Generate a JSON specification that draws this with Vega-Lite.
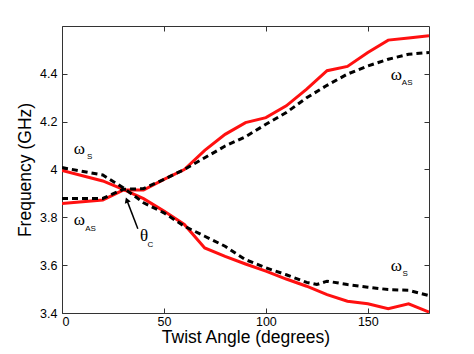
{
  "$schema": "https://vega.github.io/schema/vega-lite/v6.json",
  "autosize": "none",
  "padding": {"left": 62, "top": 26, "right": 45, "bottom": 41},
  "width": 367,
  "height": 287,
  "background": "white",
  "config": {
    "view": {"stroke": "#333", "strokeWidth": 1},
    "axis": {"labelFont": "Liberation Sans", "titleFont": "Liberation Sans", "labelFontSize": 12.5, "titleFontSize": 17.5, "titleFontWeight": "normal", "labelColor": "black", "titleColor": "black", "domainColor": "#333", "tickColor": "#333", "grid": false}
  },
  "datasets": {
    "curves": [
      {"angle": 0, "freq": 3.858, "branch": "red_up", "model": "red"},
      {"angle": 20, "freq": 3.872, "branch": "red_up", "model": "red"},
      {"angle": 30, "freq": 3.914, "branch": "red_up", "model": "red"},
      {"angle": 40, "freq": 3.914, "branch": "red_up", "model": "red"},
      {"angle": 50, "freq": 3.959, "branch": "red_up", "model": "red"},
      {"angle": 60, "freq": 4.0, "branch": "red_up", "model": "red"},
      {"angle": 70, "freq": 4.08, "branch": "red_up", "model": "red"},
      {"angle": 80, "freq": 4.147, "branch": "red_up", "model": "red"},
      {"angle": 90, "freq": 4.196, "branch": "red_up", "model": "red"},
      {"angle": 100, "freq": 4.217, "branch": "red_up", "model": "red"},
      {"angle": 110, "freq": 4.266, "branch": "red_up", "model": "red"},
      {"angle": 120, "freq": 4.336, "branch": "red_up", "model": "red"},
      {"angle": 130, "freq": 4.413, "branch": "red_up", "model": "red"},
      {"angle": 140, "freq": 4.431, "branch": "red_up", "model": "red"},
      {"angle": 150, "freq": 4.489, "branch": "red_up", "model": "red"},
      {"angle": 160, "freq": 4.541, "branch": "red_up", "model": "red"},
      {"angle": 170, "freq": 4.55, "branch": "red_up", "model": "red"},
      {"angle": 180, "freq": 4.559, "branch": "red_up", "model": "red"},
      {"angle": 0, "freq": 3.996, "branch": "red_low", "model": "red"},
      {"angle": 20, "freq": 3.952, "branch": "red_low", "model": "red"},
      {"angle": 30, "freq": 3.917, "branch": "red_low", "model": "red"},
      {"angle": 40, "freq": 3.878, "branch": "red_low", "model": "red"},
      {"angle": 50, "freq": 3.826, "branch": "red_low", "model": "red"},
      {"angle": 60, "freq": 3.77, "branch": "red_low", "model": "red"},
      {"angle": 70, "freq": 3.672, "branch": "red_low", "model": "red"},
      {"angle": 80, "freq": 3.637, "branch": "red_low", "model": "red"},
      {"angle": 90, "freq": 3.605, "branch": "red_low", "model": "red"},
      {"angle": 100, "freq": 3.575, "branch": "red_low", "model": "red"},
      {"angle": 110, "freq": 3.542, "branch": "red_low", "model": "red"},
      {"angle": 120, "freq": 3.512, "branch": "red_low", "model": "red"},
      {"angle": 130, "freq": 3.477, "branch": "red_low", "model": "red"},
      {"angle": 140, "freq": 3.449, "branch": "red_low", "model": "red"},
      {"angle": 150, "freq": 3.439, "branch": "red_low", "model": "red"},
      {"angle": 160, "freq": 3.418, "branch": "red_low", "model": "red"},
      {"angle": 170, "freq": 3.438, "branch": "red_low", "model": "red"},
      {"angle": 180, "freq": 3.404, "branch": "red_low", "model": "red"},
      {"angle": 0, "freq": 3.879, "branch": "blk_up", "model": "black"},
      {"angle": 20, "freq": 3.879, "branch": "blk_up", "model": "black"},
      {"angle": 30, "freq": 3.917, "branch": "blk_up", "model": "black"},
      {"angle": 40, "freq": 3.92, "branch": "blk_up", "model": "black"},
      {"angle": 50, "freq": 3.959, "branch": "blk_up", "model": "black"},
      {"angle": 60, "freq": 4.0, "branch": "blk_up", "model": "black"},
      {"angle": 70, "freq": 4.049, "branch": "blk_up", "model": "black"},
      {"angle": 80, "freq": 4.098, "branch": "blk_up", "model": "black"},
      {"angle": 90, "freq": 4.137, "branch": "blk_up", "model": "black"},
      {"angle": 100, "freq": 4.189, "branch": "blk_up", "model": "black"},
      {"angle": 110, "freq": 4.238, "branch": "blk_up", "model": "black"},
      {"angle": 120, "freq": 4.3, "branch": "blk_up", "model": "black"},
      {"angle": 130, "freq": 4.352, "branch": "blk_up", "model": "black"},
      {"angle": 140, "freq": 4.399, "branch": "blk_up", "model": "black"},
      {"angle": 150, "freq": 4.433, "branch": "blk_up", "model": "black"},
      {"angle": 160, "freq": 4.461, "branch": "blk_up", "model": "black"},
      {"angle": 170, "freq": 4.482, "branch": "blk_up", "model": "black"},
      {"angle": 180, "freq": 4.489, "branch": "blk_up", "model": "black"},
      {"angle": 0, "freq": 4.008, "branch": "blk_low", "model": "black"},
      {"angle": 20, "freq": 3.977, "branch": "blk_low", "model": "black"},
      {"angle": 30, "freq": 3.924, "branch": "blk_low", "model": "black"},
      {"angle": 40, "freq": 3.861, "branch": "blk_low", "model": "black"},
      {"angle": 50, "freq": 3.819, "branch": "blk_low", "model": "black"},
      {"angle": 60, "freq": 3.763, "branch": "blk_low", "model": "black"},
      {"angle": 70, "freq": 3.721, "branch": "blk_low", "model": "black"},
      {"angle": 80, "freq": 3.679, "branch": "blk_low", "model": "black"},
      {"angle": 90, "freq": 3.623, "branch": "blk_low", "model": "black"},
      {"angle": 100, "freq": 3.589, "branch": "blk_low", "model": "black"},
      {"angle": 110, "freq": 3.56, "branch": "blk_low", "model": "black"},
      {"angle": 120, "freq": 3.528, "branch": "blk_low", "model": "black"},
      {"angle": 125, "freq": 3.519, "branch": "blk_low", "model": "black"},
      {"angle": 130, "freq": 3.533, "branch": "blk_low", "model": "black"},
      {"angle": 140, "freq": 3.519, "branch": "blk_low", "model": "black"},
      {"angle": 150, "freq": 3.508, "branch": "blk_low", "model": "black"},
      {"angle": 160, "freq": 3.498, "branch": "blk_low", "model": "black"},
      {"angle": 170, "freq": 3.495, "branch": "blk_low", "model": "black"},
      {"angle": 180, "freq": 3.473, "branch": "blk_low", "model": "black"}
    ],
    "symbols": [
      {"angle": 8.5, "freq": 4.084, "label": "ω"},
      {"angle": 8.5, "freq": 3.788, "label": "ω"},
      {"angle": 40.3, "freq": 3.721, "label": "θ"},
      {"angle": 164, "freq": 4.394, "label": "ω"},
      {"angle": 164, "freq": 3.598, "label": "ω"}
    ],
    "subs": [
      {"angle": 13.6, "freq": 4.052, "label": "S"},
      {"angle": 14.0, "freq": 3.752, "label": "AS"},
      {"angle": 43.4, "freq": 3.686, "label": "C"},
      {"angle": 169.3, "freq": 4.36, "label": "AS"},
      {"angle": 168.3, "freq": 3.562, "label": "S"}
    ],
    "arrow": [
      {"angle": 37.2, "freq": 3.752, "angle2": 31.8, "freq2": 3.872}
    ]
  },
  "layer": [
    {
      "data": {"name": "curves"},
      "transform": [{"filter": "datum.model === 'red'"}],
      "mark": {"type": "line", "color": "#ff1010", "strokeWidth": 3, "clip": true},
      "encoding": {
        "x": {"field": "angle", "type": "quantitative", "scale": {"domain": [0, 180], "nice": false}, "axis": {"values": [0, 50, 100, 150], "format": "d", "title": "Twist Angle (degrees)", "tickSize": -5, "labelPadding": 7, "titlePadding": 1, "domain": false}},
        "y": {"field": "freq", "type": "quantitative", "scale": {"domain": [3.4, 4.6], "nice": false, "zero": false}, "axis": {"values": [3.4, 3.6, 3.8, 4.0, 4.2, 4.4], "format": "~g", "title": "Frequency (GHz)", "tickSize": -5, "labelPadding": 10, "titlePadding": 5, "domain": false}},
        "detail": {"field": "branch"}
      }
    },
    {
      "data": {"name": "curves"},
      "transform": [{"filter": "datum.model === 'black'"}],
      "mark": {"type": "line", "color": "black", "strokeWidth": 3, "strokeDash": [6, 4], "clip": true},
      "encoding": {
        "x": {"field": "angle", "type": "quantitative", "axis": {"orient": "top", "values": [0, 50, 100, 150], "labels": false, "title": null, "tickSize": -5, "domain": false}},
        "y": {"field": "freq", "type": "quantitative", "axis": {"orient": "right", "values": [3.4, 3.6, 3.8, 4.0, 4.2, 4.4], "labels": false, "title": null, "tickSize": -5, "domain": false}},
        "detail": {"field": "branch"}
      }
    },
    {
      "data": {"name": "arrow"},
      "mark": {"type": "rule", "color": "black", "strokeWidth": 1.5},
      "encoding": {
        "x": {"field": "angle", "type": "quantitative", "axis": null},
        "y": {"field": "freq", "type": "quantitative", "axis": null},
        "x2": {"field": "angle2"},
        "y2": {"field": "freq2"}
      }
    },
    {
      "data": {"name": "arrow"},
      "mark": {"type": "point", "shape": "triangle-up", "filled": true, "color": "black", "size": 40, "angle": -20, "opacity": 1},
      "encoding": {
        "x": {"field": "angle2", "type": "quantitative", "axis": null},
        "y": {"field": "freq2", "type": "quantitative", "axis": null}
      }
    },
    {
      "data": {"name": "symbols"},
      "mark": {"type": "text", "font": "Liberation Serif", "fontSize": 17, "color": "black"},
      "encoding": {
        "x": {"field": "angle", "type": "quantitative", "axis": null},
        "y": {"field": "freq", "type": "quantitative", "axis": null},
        "text": {"field": "label"}
      }
    },
    {
      "data": {"name": "subs"},
      "mark": {"type": "text", "font": "Liberation Sans", "fontSize": 8, "color": "black"},
      "encoding": {
        "x": {"field": "angle", "type": "quantitative", "axis": null},
        "y": {"field": "freq", "type": "quantitative", "axis": null},
        "text": {"field": "label"}
      }
    }
  ],
  "resolve": {"axis": {"x": "independent", "y": "independent"}}
}
